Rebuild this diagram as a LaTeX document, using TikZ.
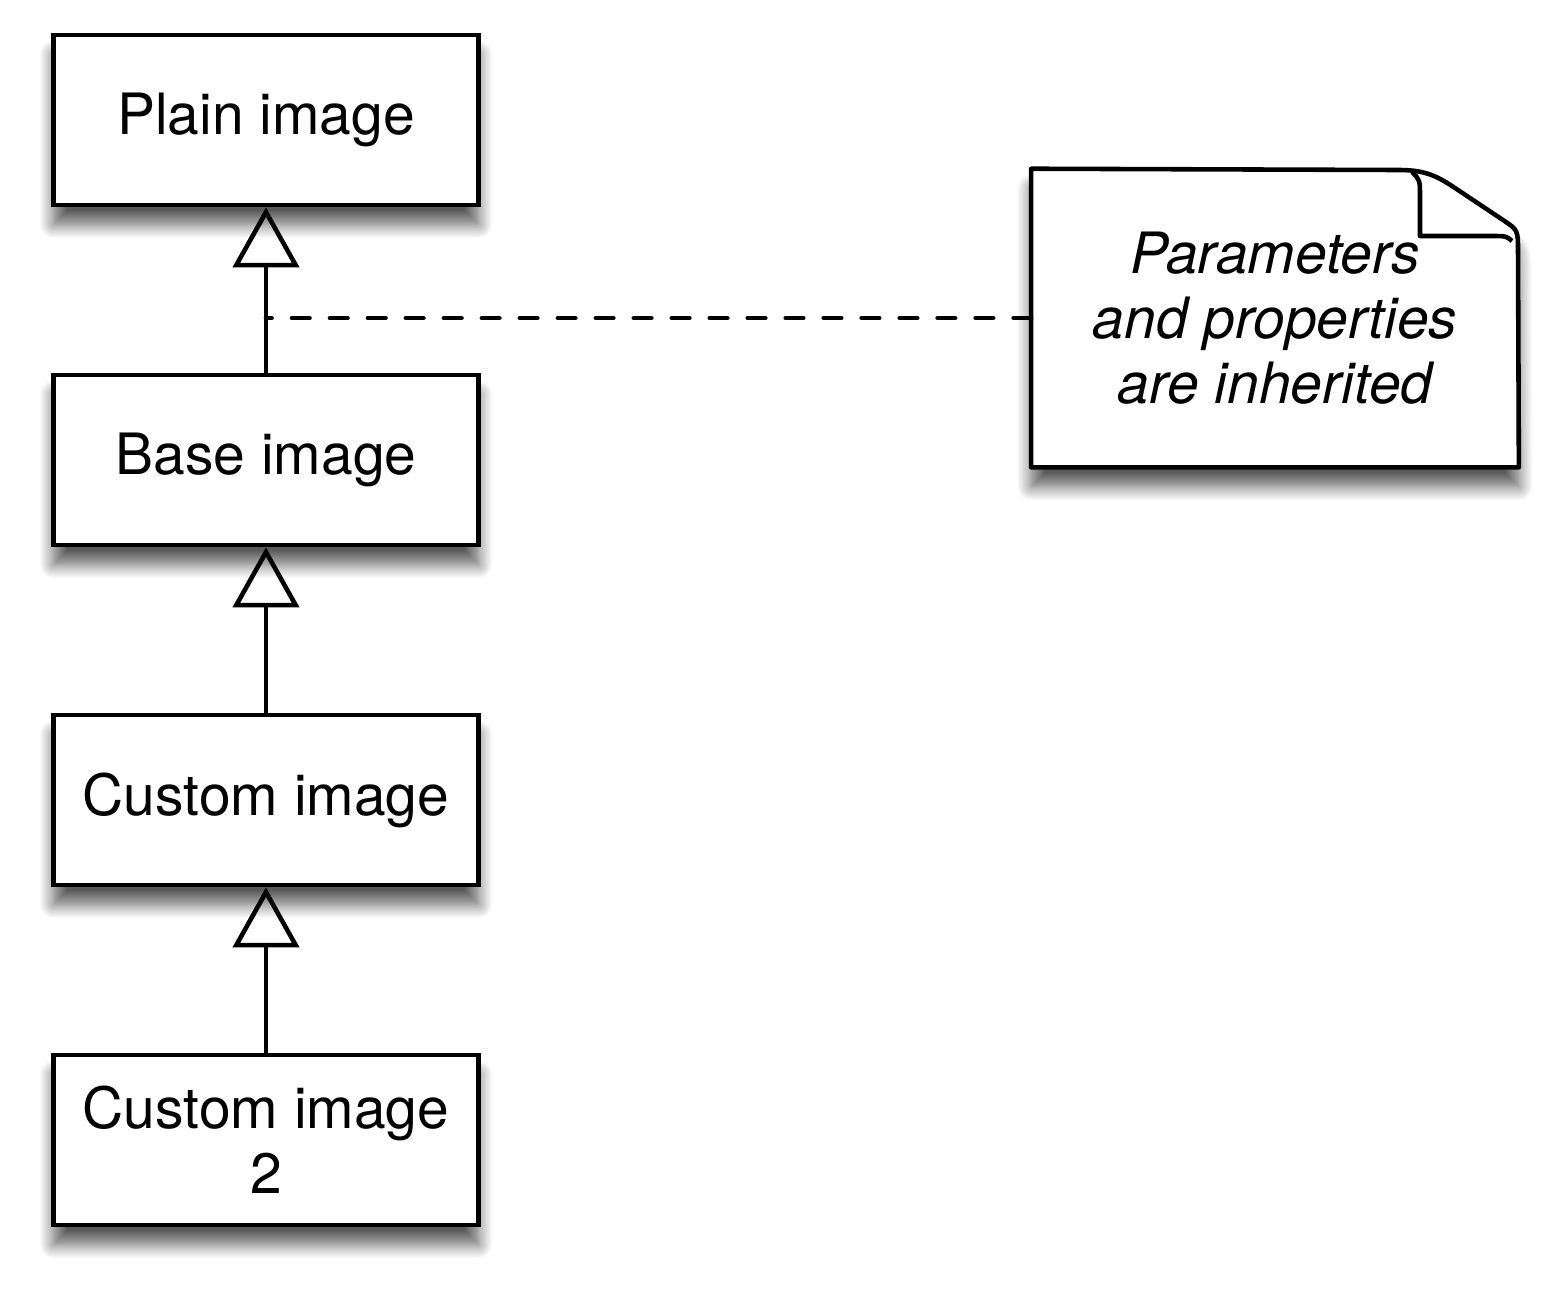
\documentclass[tikz,border=0pt]{standalone}
\usepackage{fontspec}
\setmainfont{TeX Gyre Heros}
\usepackage{tikz}
\usetikzlibrary{arrows.meta, positioning, shadows.blur, calc}

\tikzset{
  softshadow/.style={blur shadow={shadow xshift=0pt, shadow yshift=-5.5pt, shadow blur radius=4pt,
                     shadow blur steps=14, shadow opacity=65}},
  imgbox/.style={draw, line width=1.3pt, fill=white, minimum width=4.25cm, minimum height=1.7cm,
                 align=center, font=\fontsize{16.2pt}{18.5pt}\selectfont, softshadow},
  inherits/.style={line width=1.3pt, -{Triangle[open, length=0.6cm, width=0.66cm, line width=1.3pt]}},
  noteline/.style={line width=1.3pt, dash pattern=on 5pt off 5.8pt, line cap=round}
}

\begin{document}
\begin{tikzpicture}[x=0.01cm, y=-0.01cm]
  \useasboundingbox (0,0) rectangle (1567,1293);
  % class chain
  \node[imgbox] (plain) at (266,120) {Plain image};
  \node[imgbox] (base) at (266,460) {Base image};
  \node[imgbox] (custom) at (266,800) {Custom image};
  \node[imgbox] (customtwo) at (266,1140) {Custom image\\2};
  \draw[inherits] (base.north) -- (plain.south);
  \draw[inherits] (custom.north) -- (base.south);
  \draw[inherits] (customtwo.north) -- (custom.south);
  % note with folded corner
  \node[minimum width=4.86cm, minimum height=2.97cm, inner sep=0pt] (note) at (1275,318) {};
  \filldraw[line width=1.3pt, fill=white, line join=round, softshadow]
    (note.north west) -- (1400,170) .. controls (1428,170) and (1440,178) .. (1458,190)
    -- (1503,220) .. controls (1518,230) .. (1518,252) -- (note.south east)
    -- (note.south west) -- cycle;
  \draw[line width=1.3pt, line join=round]
    (1412,172) .. controls (1420,180) .. (1420,198) -- (1420,236) -- (1492,236)
    .. controls (1506,236) .. (1512,241);
  \node[align=center, font=\fontsize{16.2pt}{18.5pt}\selectfont\itshape] (notetext) at (note.center)
        {Parameters\\and properties\\are inherited};
  \draw[noteline] (note.west) -- (note.west -| base.north);
\end{tikzpicture}
\end{document}
